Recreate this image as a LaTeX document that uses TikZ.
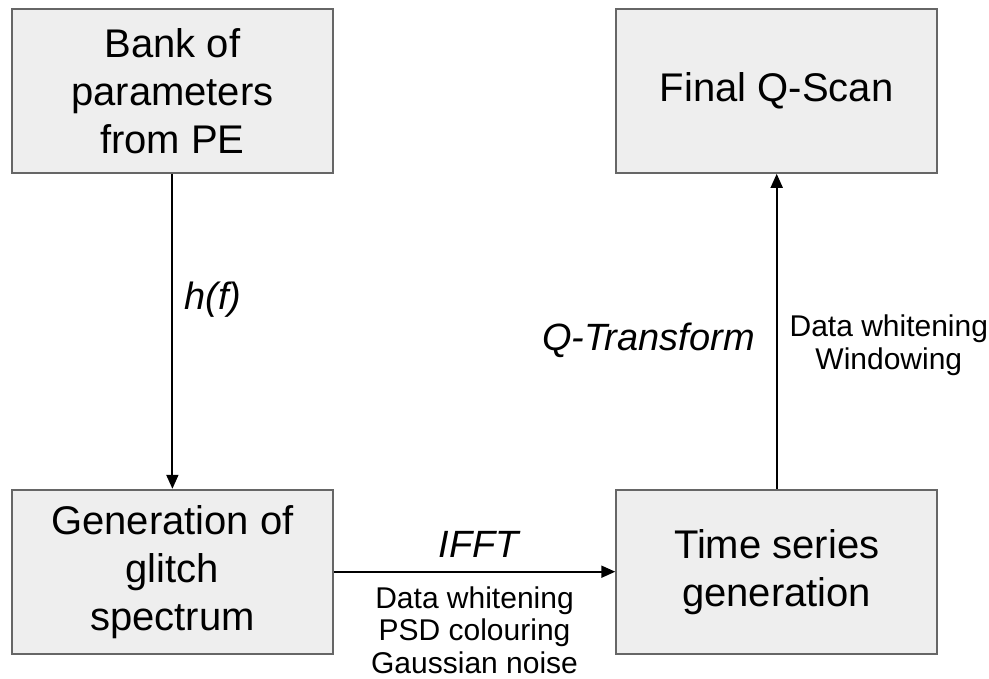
\documentclass[tikz,border=0pt]{standalone}
\usepackage{fontspec}
\setmainfont{Liberation Sans}
\usetikzlibrary{positioning, arrows.meta}
\definecolor{boxfill}{HTML}{EEEEEE}
\definecolor{boxline}{HTML}{666666}

\begin{document}
\begin{tikzpicture}[
    stage/.style={draw=boxline, line width=1.8pt, fill=boxfill, minimum width=321pt, minimum height=164pt, inner sep=0pt, align=center, font=\fontsize{40}{48}\selectfont},
    flow/.style={-{Triangle[length=14pt, width=12pt]}, line width=1.8pt},
    op/.style={inner sep=0pt, font=\fontsize{38}{44}\selectfont\itshape},
    notes/.style={inner sep=0pt, align=center, font=\fontsize{30}{32.5}\selectfont}
]
    % Four stages of the pipeline
    \node[stage] (bank) {Bank of\\parameters\\from PE};
    \node[stage, below=315pt of bank] (glitch) {Generation of\\glitch\\spectrum};
    \node[stage, right=281.5pt of glitch] (tseries) {Time series\\generation};
    \node[stage, right=281.5pt of bank] (qscan) {Final Q-Scan};

    % Fix the page to the reference size
    \useasboundingbox ([shift={(-11pt,8pt)}]bank.north west) rectangle ++(989pt,-679pt);

    % Connectors with their labels
    \draw[flow] (bank) -- node[pos=0.4, right=11pt, op] {h(f)} (glitch);
    \draw[flow] (glitch) -- node[above=13pt, xshift=4pt, op] {IFFT} node[below=14pt, notes] {Data whitening\\PSD colouring\\Gaussian noise} (tseries);
    \draw[flow] (tseries) -- node[pos=0.47, left=21pt, op] {Q-Transform} node[pos=0.456, right=12pt, notes] {Data whitening\\Windowing} (qscan);
\end{tikzpicture}
\end{document}
